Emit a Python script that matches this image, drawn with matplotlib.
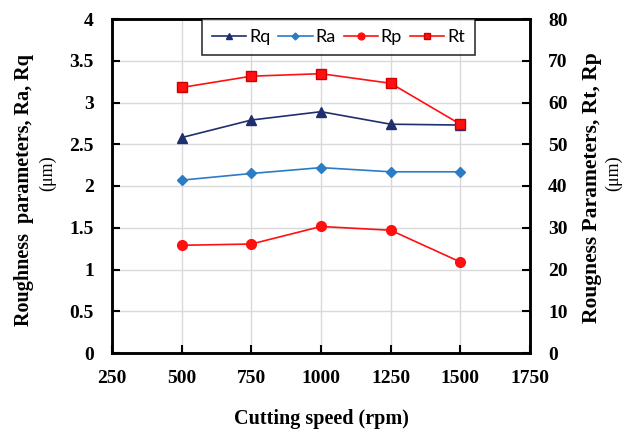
import matplotlib
matplotlib.use("Agg")
import matplotlib.pyplot as plt

speed = [500, 750, 1000, 1250, 1500]
rq = [2.58, 2.79, 2.89, 2.74, 2.73]
ra = [2.07, 2.15, 2.22, 2.17, 2.17]
rp = [25.8, 26.1, 30.3, 29.4, 21.8]
rt = [63.6, 66.3, 66.9, 64.6, 54.8]

xticks = [250, 500, 750, 1000, 1250, 1500, 1750]

serif = "Liberation Serif"
sans = "Lato"

fig = plt.figure(figsize=(6.25, 4.32), dpi=100)
ax = fig.add_axes([112/625, 1-353/432, (530-112)/625, (353-19)/432])
ax2 = ax.twinx()

l1, = ax.plot(speed, rq, color="#1f2f6e", marker="^", ms=7, lw=1.2, label="Rq")
l2, = ax.plot(speed, ra, color="#2a7cc7", marker="D", ms=5, lw=1.2, label="Ra")
l3, = ax2.plot(speed, rp, color="#ff1010", marker="o", ms=7, lw=1.2, label="Rp")
l4, = ax2.plot(speed, rt, color="#ff1010", marker="s", ms=7, lw=1.2,
               mec="#d00000", label="Rt")

ax.set_xlim(250, 1750)
ax.set_ylim(0, 4)
ax2.set_ylim(0, 80)
ax.set_xticks(xticks)
ax.set_yticks([0, 0.5, 1, 1.5, 2, 2.5, 3, 3.5, 4])
ax.set_yticklabels(["0", "0.5", "1", "1.5", "2", "2.5", "3", "3.5", "4"])
ax2.set_yticks(range(0, 81, 10))
ax.grid(True, color="#d9d9d9", lw=1)
ax.set_axisbelow(True)

for a in (ax, ax2):
    for s in a.spines.values():
        s.set_linewidth(1.8)
    a.tick_params(direction="in", length=6, width=1.5)
    for lab in a.get_xticklabels() + a.get_yticklabels():
        lab.set_fontfamily(serif)
        lab.set_fontweight("bold")
        lab.set_fontsize(14)
ax.tick_params(axis="x", pad=12)
ax.tick_params(axis="y", pad=13)
ax2.tick_params(axis="y", pad=13)

ax.set_xlabel("Cutting speed (rpm)", fontfamily=serif, fontweight="bold",
              fontsize=14.5, labelpad=16)

fig.text(24/625, 1-190/432, "Roughness  parameters, Ra, Rq", rotation=90,
         ha="center", va="center", fontfamily=serif, fontweight="bold", fontsize=14.5)
fig.text(48/625, 1-173/432, "(\u03bcm)", rotation=90, ha="center", va="center",
         fontfamily=serif, fontsize=13)
fig.text(592/625, 1-188/432, "Rougness Parameters, Rt, Rp", rotation=90,
         ha="center", va="center", fontfamily=serif, fontweight="bold", fontsize=15.5)
fig.text(614/625, 1-173/432, "(\u03bcm)", rotation=90, ha="center", va="center",
         fontfamily=serif, fontsize=13)

leg = ax2.legend(handles=[l1, l2, l3, l4], ncol=4, loc="upper left",
                 bbox_to_anchor=((202-112)/418, 1.0), frameon=True, fancybox=False,
                 prop={"family": sans, "size": 13}, handlelength=1.9,
                 handletextpad=0.15, columnspacing=0.45, borderpad=0.55,
                 borderaxespad=0, markerscale=0.7)
leg.get_frame().set_edgecolor("black")
leg.get_frame().set_linewidth(1.2)

fig.savefig("out.png", dpi=100)
